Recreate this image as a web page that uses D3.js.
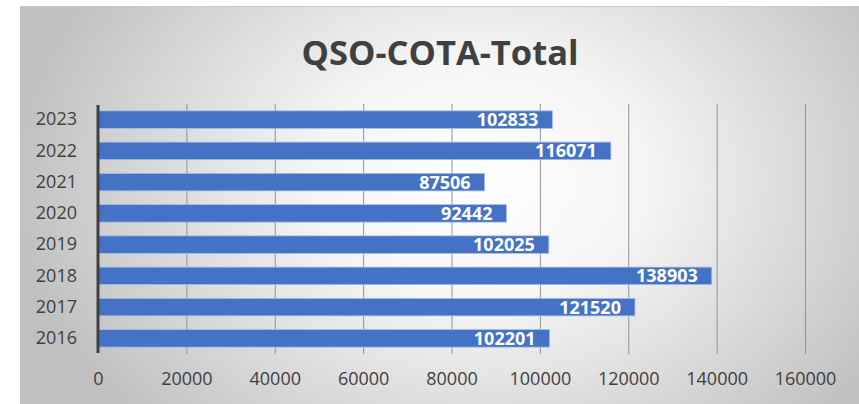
<!DOCTYPE html>
<html>
  <body style="margin:0;background:#fff;">
    <style>
      .tick text {
        font-family: 'Open Sans', sans-serif;
        fill: #404040;
      }
    </style>
    <div class="chart"></div>
    <script src="https://d3js.org/d3.v7.min.js"></script>
    <script type="text/javascript">
      const years = ['2023', '2022', '2021', '2020', '2019', '2018', '2017', '2016'];
      const totals = [102833, 116071, 87506, 92442, 102025, 138903, 121520, 102201];
      const xTicks = [0, 20000, 40000, 60000, 80000, 100000, 120000, 140000, 160000];
      const title = 'QSO-COTA-Total';

      const width = 859;
      const height = 404;
      const frame = { x: 20, y: 6 };
      const plot = { left: 98, right: 805, top: 104, bottom: 354 };

      const data = years.map((y, i) => ({ label: y, value: totals[i] }));

      const svg = d3
        .select('.chart')
        .append('svg')
        .attr('width', width)
        .attr('height', height);

      const defs = svg.append('defs');
      const grad = defs
        .append('radialGradient')
        .attr('id', 'bg')
        .attr('gradientUnits', 'userSpaceOnUse')
        .attr('cx', 480)
        .attr('cy', 180)
        .attr('r', 470)
        .attr('gradientTransform', 'translate(480,180) scale(1,0.75) translate(-480,-180)');
      grad.append('stop').attr('offset', '0%').attr('stop-color', '#ffffff');
      grad.append('stop').attr('offset', '35%').attr('stop-color', '#f5f5f5');
      grad.append('stop').attr('offset', '100%').attr('stop-color', '#c0c0c0');

      svg
        .append('rect')
        .attr('x', frame.x)
        .attr('y', frame.y)
        .attr('width', width - frame.x)
        .attr('height', height - frame.y)
        .attr('fill', 'url(#bg)');
      svg
        .append('line')
        .attr('x1', frame.x)
        .attr('x2', width)
        .attr('y1', frame.y + 0.5)
        .attr('y2', frame.y + 0.5)
        .attr('stroke', '#c8c8c8');

      const scaleX = d3
        .scaleLinear()
        .domain([0, 160000])
        .range([plot.left, plot.right]);
      const scaleY = d3
        .scaleBand()
        .domain(years)
        .range([plot.top, plot.bottom])
        .paddingInner(0.44)
        .paddingOuter(0.22);

      // gridlines
      svg
        .append('g')
        .attr('transform', `translate(0, ${plot.bottom})`)
        .call(d3.axisBottom(scaleX).tickValues(xTicks.slice(1)).tickSize(-(plot.bottom - plot.top)).tickFormat(''))
        .call((g) => g.select('.domain').remove())
        .call((g) => g.selectAll('.tick line').attr('stroke', '#939393').attr('stroke-width', 1));

      // bars
      svg
        .selectAll('rect.bar')
        .data(data)
        .enter()
        .append('rect')
        .attr('class', 'bar')
        .attr('x', scaleX(0))
        .attr('y', (d) => scaleY(d.label))
        .attr('width', (d) => scaleX(d.value) - scaleX(0))
        .attr('height', scaleY.bandwidth())
        .attr('fill', '#4472c4')
        .attr('stroke', '#a9bde6')
        .attr('stroke-width', 0.8);

      // value labels
      svg
        .selectAll('text.val')
        .data(data)
        .enter()
        .append('text')
        .attr('class', 'val')
        .attr('x', (d) => scaleX(d.value) - 14)
        .attr('y', (d) => scaleY(d.label) + scaleY.bandwidth() / 2)
        .attr('dy', '0.36em')
        .attr('text-anchor', 'end')
        .attr('fill', '#ffffff')
        .attr('font-family', 'Open Sans, sans-serif')
        .attr('font-weight', 'bold')
        .attr('font-size', 18)
        .text((d) => d.value);

      // y axis
      svg
        .append('g')
        .attr('transform', `translate(${plot.left}, 0)`)
        .call(d3.axisLeft(scaleY).tickSize(0).tickPadding(21))
        .call((g) => g.select('.domain').remove())
        .call((g) => g.selectAll('.tick text').attr('font-size', 18));
      svg
        .append('line')
        .attr('x1', plot.left)
        .attr('x2', plot.left)
        .attr('y1', plot.top + 1)
        .attr('y2', plot.bottom - 1)
        .attr('stroke', '#404040')
        .attr('stroke-width', 3);

      // x axis labels
      svg
        .append('g')
        .attr('transform', `translate(0, ${plot.bottom})`)
        .call(d3.axisBottom(scaleX).tickValues(xTicks).tickSize(0).tickPadding(18).tickFormat((d) => d))
        .call((g) => g.select('.domain').remove())
        .call((g) => g.selectAll('.tick text').attr('font-size', 18));

      svg
        .append('text')
        .attr('x', 440)
        .attr('y', 65)
        .attr('text-anchor', 'middle')
        .attr('fill', '#404040')
        .attr('font-family', 'Open Sans, sans-serif')
        .attr('font-weight', 'bold')
        .attr('font-size', 34.5)
        .text(title);
    </script>
  </body>
</html>
